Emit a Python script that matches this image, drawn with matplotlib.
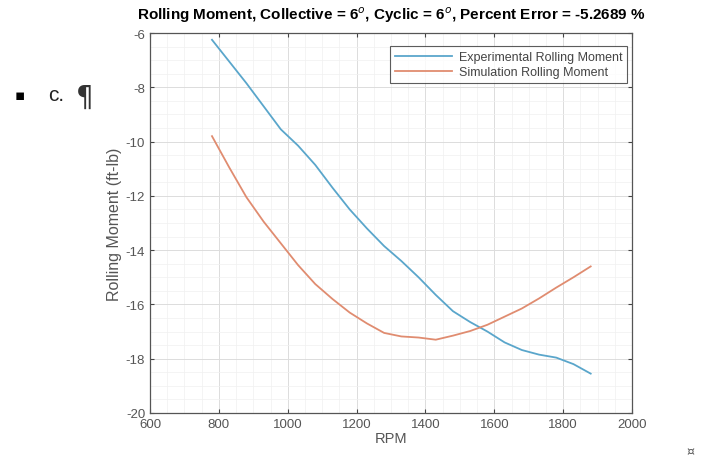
import matplotlib
matplotlib.use("Agg")
import matplotlib.pyplot as plt
from matplotlib.ticker import MultipleLocator

# rolling moment vs rotor speed, collective 6 deg, cyclic 6 deg
rpm = [780, 830, 880, 930, 980, 1030, 1080, 1130, 1180, 1230, 1280, 1330,
       1380, 1430, 1480, 1530, 1580, 1630, 1680, 1730, 1780, 1830, 1880]
experimental = [-6.25, -7.05, -7.85, -8.70, -9.55, -10.15, -10.86, -11.70,
                -12.50, -13.20, -13.85, -14.40, -15.00, -15.65, -16.25,
                -16.65, -17.00, -17.40, -17.68, -17.85, -17.96, -18.20, -18.55]
simulation = [-9.80, -10.95, -12.05, -12.95, -13.75, -14.55, -15.25, -15.80,
              -16.30, -16.70, -17.05, -17.18, -17.22, -17.30, -17.15, -16.98,
              -16.75, -16.45, -16.15, -15.78, -15.38, -15.00, -14.60]
series_labels = ["Experimental Rolling Moment", "Simulation Rolling Moment"]
percent_error = -5.2689

plt.rcParams["font.family"] = ["Liberation Sans", "DejaVu Sans"]
plt.rcParams["axes.unicode_minus"] = False

fig = plt.figure(figsize=(7.13, 4.64), dpi=100)
ax = fig.add_axes([0.2104, 0.1078, 0.6760, 0.8189])

ax.plot(rpm, experimental, color="#5aa6cb", lw=1.3, label=series_labels[0])
ax.plot(rpm, simulation, color="#e08c70", lw=1.3, label=series_labels[1])

ax.set_xlim(600, 2000)
ax.set_ylim(-20, -6)
ax.xaxis.set_major_locator(MultipleLocator(200))
ax.yaxis.set_major_locator(MultipleLocator(2))
ax.xaxis.set_minor_locator(MultipleLocator(50))
ax.yaxis.set_minor_locator(MultipleLocator(0.5))
ax.grid(which="major", color="#dcdcdc", lw=0.7)
ax.grid(which="minor", color="#f0f0f0", lw=0.5)
ax.set_axisbelow(True)
ax.tick_params(which="major", direction="in", top=True, right=True,
               length=3, labelsize=9.5, labelcolor="#555555", color="#444444")
ax.tick_params(which="minor", length=0)
for sp in ax.spines.values():
    sp.set_color("#555555")
    sp.set_linewidth(0.9)

ax.set_xlabel("RPM", fontsize=10.5, color="#555555", labelpad=1)
ax.set_ylabel("Rolling Moment (ft-lb)", fontsize=11.5, color="#555555", labelpad=3)
ax.set_title("Rolling Moment, Collective = 6$^{o}$, Cyclic = 6$^{o}$, "
             f"Percent Error = {percent_error} %",
             fontsize=11, fontweight="bold", pad=10)

leg = ax.legend(loc="upper right", fontsize=9, frameon=True, fancybox=False,
                borderpad=0.4, handlelength=4.6, handletextpad=0.5,
                labelspacing=0.25, borderaxespad=0.0,
                bbox_to_anchor=(0.99, 0.965))
leg.get_frame().set_edgecolor("#333333")
leg.get_frame().set_linewidth(0.8)
for t in leg.get_texts():
    t.set_color("#444444")

# surrounding document marks
fig.text(0.021, 0.795, "\u25aa", fontsize=11, family="DejaVu Sans", va="center")
fig.text(0.068, 0.795, "c.", fontsize=15, family="Liberation Sans", va="center",
         color="#222222")
fig.text(0.106, 0.790, "\u00b6", fontsize=20, family="DejaVu Sans", va="center",
         color="#333333")
fig.text(0.963, 0.027, "\u00a4", fontsize=9, family="DejaVu Sans", va="center",
         color="#555555")

fig.savefig("out.png", dpi=100)
